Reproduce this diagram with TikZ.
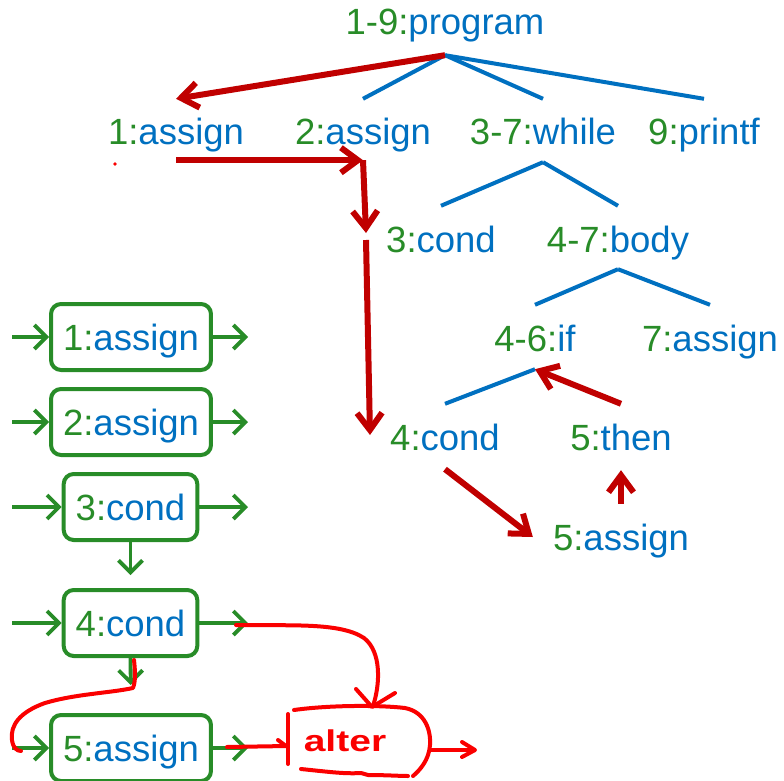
\documentclass[tikz,border=0pt]{standalone}
\usepackage{fontspec}
\setmainfont{Liberation Sans}
\usetikzlibrary{arrows.meta}
\definecolor{numgreen}{RGB}{40,140,40}
\definecolor{nameblue}{RGB}{0,112,192}
\definecolor{walkred}{RGB}{192,0,0}
\definecolor{inkred}{RGB}{250,0,0}
% label with a green line range and a blue construct name
\newcommand{\lbl}[2]{\textcolor{numgreen}{#1}\textcolor{nameblue}{#2}}
\begin{document}
\begin{tikzpicture}[x=1pt,y=-1pt,
  lblfont/.style={font=\fontsize{36.5}{40}\selectfont},
  treenode/.style={lblfont, inner xsep=20pt, inner ysep=20pt, text height=26pt, text depth=0pt},
  treeedge/.style={draw=nameblue, line width=4pt},
  walk/.style={draw=walkred, line width=6pt, -{Straight Barb[length=17pt,width=25pt]}},
  cfgbox/.style={lblfont, draw=numgreen, line width=4pt, rounded corners=10pt,
    inner xsep=12pt, inner ysep=20pt, text height=26pt, text depth=0pt},
  flow/.style={draw=numgreen, line width=3.8pt, -{Straight Barb[length=12pt,width=24pt]}},
  ink/.style={draw=inkred, line width=4pt, line cap=round, line join=round}]
\useasboundingbox (0,0) rectangle (784,781);

% ---- syntax tree ----
\node[treenode] (prog) at (445,22) {\lbl{1-9:}{program}};
\node[treenode] (a1) at (176,132) {\lbl{1:}{assign}};
\node[treenode] (a2) at (363,132) {\lbl{2:}{assign}};
\node[treenode] (wh) at (543,132) {\lbl{3-7:}{while}};
\node[treenode] (pf) at (704,132) {\lbl{9:}{printf}};
\node[treenode] (c3) at (441,239) {\lbl{3:}{cond}};
\node[treenode] (body) at (618,239) {\lbl{4-7:}{body}};
\node[treenode] (if46) at (535,338) {\lbl{4-6:}{if}};
\node[treenode] (as7) at (710,338) {\lbl{7:}{assign}};
\node[treenode] (c4) at (445,437) {\lbl{4:}{cond}};
\node[treenode] (th5) at (621,437) {\lbl{5:}{then}};
\node[treenode] (as5) at (621,537) {\lbl{5:}{assign}};

\draw[treeedge] (prog.south) -- (a2.north);
\draw[treeedge] (prog.south) -- (wh.north);
\draw[treeedge] (prog.south) -- (pf.north);
\draw[treeedge] ([yshift=3pt]wh.south) -- (c3.north);
\draw[treeedge] ([yshift=3pt]wh.south) -- (body.north);
\draw[treeedge] ([yshift=3pt]body.south) -- (if46.north);
\draw[treeedge] ([yshift=3pt]body.south) -- (as7.north);
\draw[treeedge] ([yshift=2pt]if46.south) -- (c4.north);

% ---- traversal order ----
\draw[walk] (prog.south) -- (a1.north);
\draw[walk] ([yshift=5pt]a1.south) -- ([yshift=5pt]a2.south);
\draw[walk] ([yshift=5pt]a2.south) -- ([yshift=6pt]c3.west);
\draw[walk] ([yshift=-1pt]c3.west) -- ([yshift=2pt]c4.west);
\draw[walk] ([yshift=1pt]c4.south) -- (as5.west);
\draw[walk] (as5.north) -- (th5.south);
\draw[walk] (th5.north) -- ([yshift=2pt]if46.south);
\fill[inkred] (115,164) circle (1.8pt);

% ---- control flow graph ----
\node[cfgbox] (b1) at (131,337) {\lbl{1:}{assign}};
\node[cfgbox] (b2) at (131,422) {\lbl{2:}{assign}};
\node[cfgbox] (b3) at (130.5,507) {\lbl{3:}{cond}};
\node[cfgbox] (b4) at (130.5,623) {\lbl{4:}{cond}};
\node[cfgbox] (b5) at (131,748) {\lbl{5:}{assign}};

\foreach \b in {b1,b2,b3,b4,b5}{
  \coordinate (\b in) at (12,0 |- \b.west);
  \coordinate (\b out) at (248,0 |- \b.east);
  \draw[flow] (\b in) -- (\b.west);
  \draw[flow] (\b.east) -- (\b out);
}
\draw[flow, shorten >=13pt] (b3.south) -- (b4.north);
\draw[flow, shorten >=28pt] (b4.south) -- (b5.north);

% ---- handwritten edits ----
\node[text=inkred, font=\fontsize{30}{30}\selectfont\bfseries, transform shape, xscale=1.3]
  (alter) at (345,741) {alter};
% rough box round the new node
\draw[ink] (288,714) -- (288,764);
\draw[ink] (294,710) .. controls (330,705) and (380,705) .. (405,708)
  .. controls (425,712) and (431,730) .. (430,745)
  .. controls (429,760) and (420,770) .. (413,776);
\draw[ink] (301,769) .. controls (330,772) and (345,774) .. (361,773)
  -- (368,775) .. controls (385,775) and (400,776) .. (408,776);
% jump from 4:cond to the new node
\draw[ink] (236,625) .. controls (290,626) and (340,622) .. (364,638)
  .. controls (382,652) and (380,685) .. (373,706);
\draw[ink] (356,689) -- (372,707) -- (395,693);
% edge from 5:assign into the new node
\draw[ink] (227,747) -- (287,746);
\draw[ink] (278,740) -- (286,746);
% edge out of the new node
\draw[ink] (431,750) -- (474,750);
\draw[ink] (462,742) -- (475,750) -- (462,757);
% edge from 4:cond rerouted into 5:assign
\draw[ink] (134,660) .. controls (135,670) and (136,680) .. (133,688)
  .. controls (110,693) and (75,694) .. (45,703)
  .. controls (20,712) and (10,725) .. (12,740)
  .. controls (13,748) and (17,751) .. (21,751);
\end{tikzpicture}
\end{document}
